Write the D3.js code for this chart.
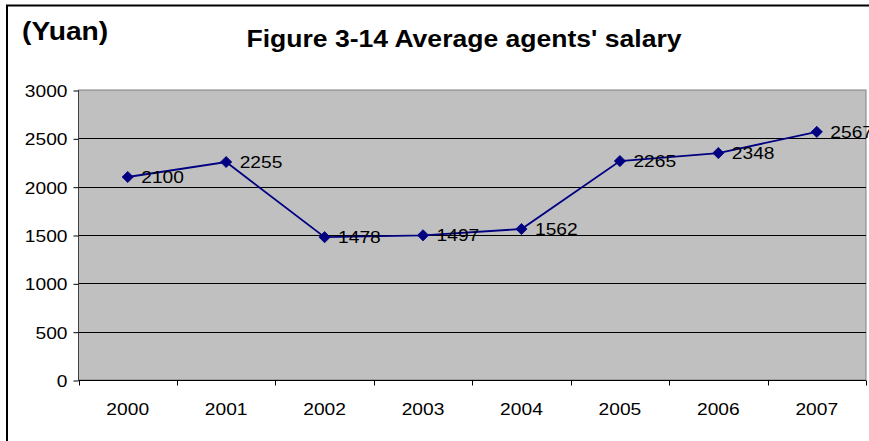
<!DOCTYPE html>
<html>
<head>
<meta charset="utf-8">
<script src="https://cdn.jsdelivr.net/npm/d3@7/dist/d3.min.js"></script>
<style>
  html, body { margin: 0; padding: 0; background: #fff; }
  svg { display: block; font-family: "Liberation Sans", Arial, sans-serif; }
</style>
</head>
<body>
<svg id="chart" width="869" height="441"></svg>
<script>
// Average agents' salary by year (Yuan)
const years = ["2000", "2001", "2002", "2003", "2004", "2005", "2006", "2007"];
const salary = [2100, 2255, 1478, 1497, 1562, 2265, 2348, 2567];
const yTicks = [0, 500, 1000, 1500, 2000, 2500, 3000];
const titleText = "Figure 3-14 Average agents' salary";
const unitText = "(Yuan)";

const svg = d3.select("#chart");
const W = 869, H = 441;
const plot = { left: 78.5, right: 866, top: 90, bottom: 380 };
const stretch = 1.13; // glyphs are set slightly wide

// outer frame
svg.append("rect")
  .attr("x", 7).attr("y", 5.5)
  .attr("width", W + 10).attr("height", H + 10)
  .attr("fill", "#fff").attr("stroke", "#000").attr("stroke-width", 2);

const x = d3.scaleBand().domain(years).range([plot.left, plot.right]).padding(0);
const y = d3.scaleLinear().domain([0, 3000]).range([plot.bottom, plot.top]);

// plot background
svg.append("rect")
  .attr("x", plot.left).attr("y", plot.top)
  .attr("width", plot.right - plot.left).attr("height", plot.bottom - plot.top)
  .attr("fill", "#c0c0c0").attr("stroke", "#808080").attr("stroke-width", 1);

// horizontal gridlines
svg.append("g")
  .selectAll("line")
  .data(yTicks.filter(d => d > 0 && d < 3000))
  .join("line")
  .attr("x1", plot.left).attr("x2", plot.right)
  .attr("y1", d => Math.round(y(d)) + 0.5).attr("y2", d => Math.round(y(d)) + 0.5)
  .attr("stroke", "#000").attr("stroke-width", 1);

function wideText(sel) {
  sel.each(function() {
    const t = d3.select(this);
    const ax = +t.attr("data-x"), ay = +t.attr("data-y");
    t.attr("transform", `translate(${ax},${ay}) scale(${stretch},1)`);
  });
}

// y axis
const yAxis = d3.axisLeft(y).tickValues(yTicks).tickSize(5).tickPadding(6).tickFormat(d3.format("d"));
const gy = svg.append("g").attr("transform", `translate(${plot.left},0.5)`).call(yAxis);
gy.select(".domain").attr("stroke", "#404040").attr("d", `M0,${plot.top}V${plot.bottom}`);
gy.selectAll(".tick line").attr("stroke", "#000");
gy.selectAll(".tick text").remove();
gy.selectAll(".tick").append("text")
  .attr("fill", "#000").attr("font-size", 17).attr("text-anchor", "end")
  .attr("data-x", -11).attr("data-y", 6)
  .text(d => d)
  .call(wideText);

// x axis
const xAxis = d3.axisBottom(x).tickSize(0).tickFormat(d => d);
const gx = svg.append("g").attr("transform", `translate(0,${plot.bottom + 0.5})`).call(xAxis);
gx.select(".domain").attr("stroke", "#000").attr("d", `M${plot.left},0H${plot.right}`);
gx.selectAll(".tick line").remove();
gx.selectAll(".tick text").remove();
gx.selectAll(".tick").append("text")
  .attr("fill", "#000").attr("font-size", 17).attr("text-anchor", "middle")
  .attr("data-x", 0).attr("data-y", 34)
  .text(d => d)
  .call(wideText);
// category boundary ticks
const bounds = years.map(d => x(d)).concat([x(years[years.length - 1]) + x.bandwidth()]);
gx.append("g").selectAll("line")
  .data(bounds)
  .join("line")
  .attr("x1", d => Math.round(d) + 0.5).attr("x2", d => Math.round(d) + 0.5)
  .attr("y1", 0).attr("y2", 5)
  .attr("stroke", "#000");

// series line
const pts = years.map((yr, i) => ({ yr, v: salary[i] }));
const cx = d => x(d.yr) + x.bandwidth() / 2;
svg.append("path")
  .datum(pts)
  .attr("fill", "none").attr("stroke", "#000080").attr("stroke-width", 1.8)
  .attr("d", d3.line().x(cx).y(d => y(d.v)));

// diamond markers
svg.append("g").selectAll("path")
  .data(pts)
  .join("path")
  .attr("transform", d => `translate(${cx(d)},${y(d.v)})`)
  .attr("d", d3.symbol().type(d3.symbolDiamond2).size(80))
  .attr("fill", "#000080").attr("stroke", "#000080").attr("stroke-width", 0.8);

// value labels
svg.append("g").selectAll("text")
  .data(pts)
  .join("text")
  .attr("fill", "#000").attr("font-size", 17)
  .attr("data-x", d => cx(d) + 13.5).attr("data-y", d => y(d.v) + 6)
  .text(d => d.v)
  .call(wideText);

// title and unit
svg.append("text")
  .attr("font-size", 23.5).attr("font-weight", "bold").attr("text-anchor", "middle")
  .attr("data-x", 464).attr("data-y", 47)
  .text(titleText)
  .call(wideText);
svg.append("text")
  .attr("font-size", 25).attr("font-weight", "bold")
  .attr("data-x", 22).attr("data-y", 40)
  .text(unitText)
  .call(wideText);
</script>
</body>
</html>
